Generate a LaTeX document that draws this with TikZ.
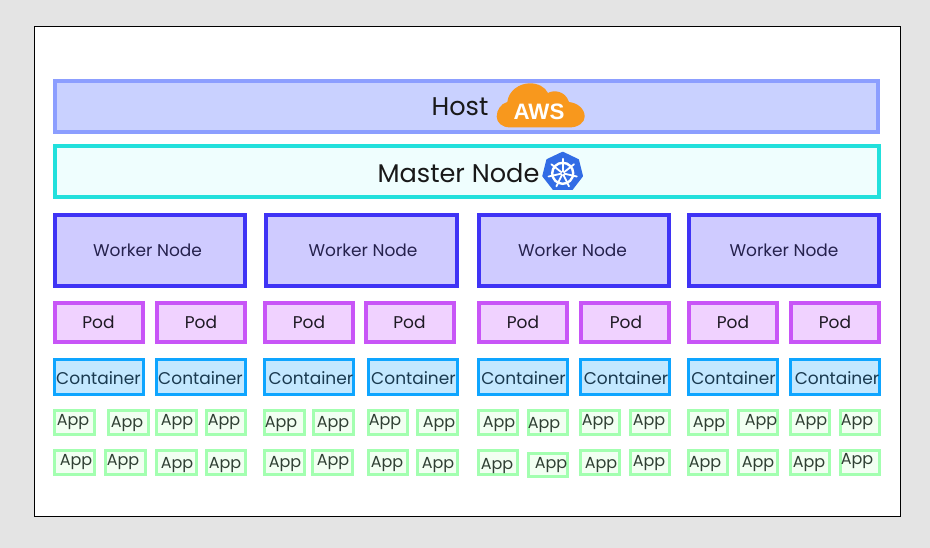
\documentclass[tikz,border=0pt]{standalone}
\usepackage{fontspec}
\setmainfont{Poppins}
\newfontfamily\awsfont{Liberation Sans}
\definecolor{pagebg}{HTML}{E4E4E4}
\definecolor{hostfill}{HTML}{C9D1FF}
\definecolor{hostline}{HTML}{8C9EFF}
\definecolor{masterfill}{HTML}{EFFEFE}
\definecolor{masterline}{HTML}{22E0DC}
\definecolor{workerfill}{HTML}{CFCBFF}
\definecolor{workerline}{HTML}{3F33F5}
\definecolor{podfill}{HTML}{F0D2FF}
\definecolor{podline}{HTML}{C855F7}
\definecolor{contfill}{HTML}{C3E8FF}
\definecolor{contline}{HTML}{0EA5FF}
\definecolor{appfill}{HTML}{F2FFF2}
\definecolor{appline}{HTML}{A3FFB0}
\definecolor{awsorange}{HTML}{F8981D}
\definecolor{k8sblue}{HTML}{326CE5}
\definecolor{workerink}{HTML}{25214D}
\definecolor{podink}{HTML}{1E1A24}
\definecolor{contink}{HTML}{1A3A50}
\definecolor{appink}{HTML}{2F3F33}
\newcommand{\fsz}[1]{\fontsize{#1}{#1}\selectfont}
\tikzset{
  boxbase/.style={draw,rectangle,inner sep=0pt,outer sep=0pt},
  hostbox/.style={boxbase,draw=hostline,fill=hostfill,line width=4pt},
  masterbox/.style={boxbase,draw=masterline,fill=masterfill,line width=4pt},
  workerbox/.style={boxbase,draw=workerline,fill=workerfill,line width=4pt},
  podbox/.style={boxbase,draw=podline,fill=podfill,line width=4pt},
  contbox/.style={boxbase,draw=contline,fill=contfill,line width=3.4pt},
  appbox/.style={boxbase,draw=appline,fill=appfill,line width=3.4pt},
  bigtext/.style={text=black!90,font=\fsz{25.6}},
  workertext/.style={text=workerink,font=\fsz{17}},
  podtext/.style={text=podink,font=\fsz{17}},
  conttext/.style={text=contink,font=\fsz{17},yshift=-0.6pt},
  apptext/.style={text=appink,font=\fsz{16},yshift=-0.7pt}
}
% name, style, line width, x0, y0, x1, y1 (outer edges, pixels)
\newcommand{\plainbox}[7]{%
  \node[#2,minimum width={(#6-#4-#3)*1pt},minimum height={(#7-#5-#3)*1pt}] (#1) at ({(#4+#6)/2},{(#5+#7)/2}) {};}
\begin{document}
\begin{tikzpicture}[x=1pt,y=-1pt]
\useasboundingbox (0,0) rectangle (930,548);
\fill[pagebg] (0,0) rectangle (930,548);
\draw[black,fill=white,line width=1pt] (34,27) rectangle (900,516);

% Host
\plainbox{host}{hostbox}{4}{53}{79}{880}{134}
\node[bigtext,anchor=center] (hostlabel) at (460,107) {Host};
\fill[awsorange] (510,127.4)
  .. controls (502,127.4) and (496.7,122.5) .. (496.7,116.7)
  .. controls (496.7,110) and (501,103.5) .. (507.3,102)
  .. controls (508.5,91) and (519,83.3) .. (530,83.3)
  .. controls (538,83.3) and (545,87) .. (548,93)
  .. controls (553,90) and (565,90) .. (569,102)
  .. controls (578,103) and (584.7,109) .. (584.7,116.7)
  .. controls (584.7,122.5) and (578,127.4) .. (570,127.4) -- cycle;
\node[text=white,font=\awsfont\bfseries\fsz{22.3}] (awslabel) at (539,111.5) {AWS};

% Master
\plainbox{master}{masterbox}{4}{53}{144}{881}{199}
\node[bigtext] (masterlabel) at (458.5,173.5) {Master Node};
\fill[k8sblue,draw=k8sblue,line width=2pt,line join=round]
  (562.7,152.7) -- (578,160) -- (582,176) -- (572,189) -- (553.5,189) -- (543.3,176) -- (547.3,160) -- cycle;
\begin{scope}[shift={(562.7,173.3)}]
  \draw[white,line width=2.4pt] (0,0) circle (10.5);
  \foreach \a in {-90,-38.6,12.9,64.3,115.7,167.1,218.6}{
    \draw[white,line width=1.8pt,line cap=round] (\a:2.5) -- (\a:14.5);
  }
  \fill[white] (0,0) circle (2.6);
  \fill[k8sblue] (0,0) circle (1.2);
\end{scope}

% Workers
\plainbox{w1}{workerbox}{4}{53}{213}{247}{288}
\plainbox{w2}{workerbox}{4}{264}{213}{459}{288}
\plainbox{w3}{workerbox}{4}{477}{213}{671}{288}
\plainbox{w4}{workerbox}{4}{687}{213}{881}{288}
\node[workertext] (w1t) at (147.5,250) {Worker Node};
\node[workertext] (w2t) at (363,250) {Worker Node};
\node[workertext] (w3t) at (572.5,250) {Worker Node};
\node[workertext] (w4t) at (784,250) {Worker Node};

% Pods
\foreach \n/\xa/\xb/\tx in {1/53/145/98.5, 2/155/247/201, 3/263/355/309, 4/364/456/409.5, 5/477/569/523, 6/579/671/626, 7/687/779/733, 8/789/881/835}{
  \plainbox{pod\n}{podbox}{4}{\xa}{301}{\xb}{344}
  \node[podtext] (pod\n t) at (\tx,322.5) {Pod};
}

% Containers
\foreach \n/\xa/\xb/\tx in {1/53/145/98.5, 2/155/247/200.5, 3/263/355/311, 4/367/459/413.5, 5/477/569/523.5, 6/579/671/626, 7/687/779/733.5, 8/789/881/837}{
  \plainbox{cont\n}{contbox}{3.4}{\xa}{358}{\xb}{396}
  \node[conttext] (cont\n t) at (\tx,377.5) {Container};
}

% Apps, upper row
\foreach \n/\xa/\xb/\tx/\ty in {
  1/53/96/73/421, 2/107/150/127/423, 3/155/198/177/421, 4/205/247/224/421,
  5/263/306/281/423, 6/312/355/333/423, 7/367/409/385/421, 8/416/459/439/423,
  9/477/519/499/423, 10/527/569/544/424, 11/579/621/598/421, 12/629/671/649/421,
  13/687/729/709/423, 14/737/779/761/421, 15/789/831/811/421, 16/839/881/857/421}{
  \plainbox{appa\n}{appbox}{3.4}{\xa}{409}{\xb}{436}
  \node[apptext] (appa\n t) at (\tx,\ty) {App};
}
% Apps, lower row
\foreach \n/\xa/\xb/\ya/\yb/\tx/\ty in {
  1/53/96/449/476/76/461, 2/104/147/449/476/123/461, 3/155/198/449/476/177/464, 4/205/247/449/476/225/464,
  5/263/306/449/476/285/463, 6/311/354/449/476/333/461, 7/367/409/449/476/387/463, 8/416/459/449/476/438/464,
  9/477/519/449/476/497/465, 10/527/569/452/478/551/464, 11/579/621/449/476/601/464, 12/629/671/449/476/649/462,
  13/687/729/449/476/705/463, 14/737/779/449/476/758/463, 15/789/831/449/476/809/463, 16/839/881/449/476/857/460}{
  \plainbox{appb\n}{appbox}{3.4}{\xa}{\ya}{\xb}{\yb}
  \node[apptext] (appb\n t) at (\tx,\ty) {App};
}
\end{tikzpicture}
\end{document}
